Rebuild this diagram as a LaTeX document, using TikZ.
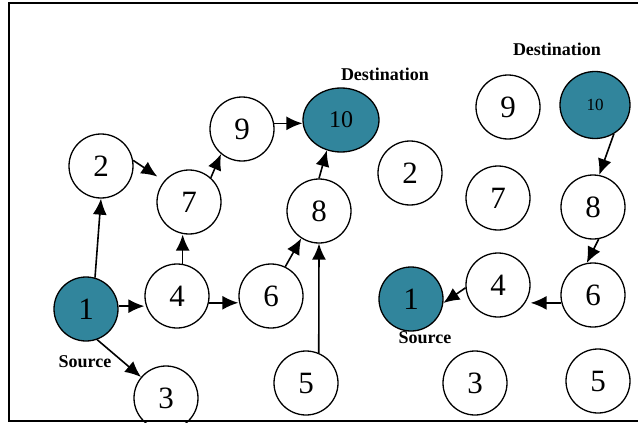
\documentclass[tikz,border=0pt]{standalone}
\usepackage{fontspec}
\setmainfont{Liberation Serif}
\usetikzlibrary{positioning}
\usetikzlibrary{arrows.meta}
\usetikzlibrary{shapes.geometric}
\definecolor{nodeteal}{HTML}{31859C}
\tikzset{
	vertex/.style={circle, draw, line width=1.3pt, minimum size=64pt, inner sep=0pt, font=\fontsize{31}{31}\selectfont},
	endpoint/.style={vertex, fill=nodeteal},
	goal/.style={ellipse, draw, fill=nodeteal, line width=1.3pt, minimum width=76pt, minimum height=64pt, inner sep=0pt, font=\fontsize{24}{24}\selectfont},
	tag/.style={font=\bfseries\fontsize{18}{18}\selectfont, inner sep=0pt},
	link/.style={-{Latex[length=16pt,width=14pt]}, line width=1.6pt},
}

\begin{document}
\begin{tikzpicture}[x=1pt,y=-1pt]
		\useasboundingbox (0,0) rectangle (638,423);
		\draw[line width=1.8pt] (640,3) -- (9,3) -- (9,421) -- (640,421);
		% first graph
		\node[endpoint] (l1) at (86,309) {1};
		\node[vertex] (l2) at (101,166) {2};
		\node[vertex] (l3) at (166,398) {3};
		\node[vertex] (l4) at (177,296) {4};
		\node[vertex] (l5) at (306,383) {5};
		\node[vertex] (l6) at (271,296) {6};
		\node[vertex] (l7) at (189,202) {7};
		\node[vertex] (l8) at (319,211) {8};
		\node[vertex] (l9) at (242,129) {9};
		\node[goal] (l10) at (341,120) {10};
		\node[tag] (srcl) at (85,362) {Source};
		\node[tag] (dstl) at (385,74) {Destination};
		\draw[link] (l1.74) -- (l2.south);
		\draw[link, shorten >=8pt] (l2.10) -- (l7.140);
		\draw[link] (l1.5) -- (l1.5 -| l4.west);
		\draw[link] (l1.-70) -- (l3.140);
		\draw[link] (l4.80) -- (l4.80 |- l7.south);
		\draw[link] (l4.-12) -- (l4.-12 -| l6.west);
		\draw[link] (l7.48) -- (l9.230);
		\draw[link] (l9.10) -- (l9.10 -| l10.west);
		\draw[link] (l6.64) -- (l8.237);
		\draw[link] (l5.67) -- (l8.south);
		\draw[link] (l8.north) -- (l10.245);
		% second graph
		\node[endpoint] (r1) at (411,299) {1};
		\node[vertex] (r2) at (410,173) {2};
		\node[vertex] (r3) at (475,383) {3};
		\node[vertex] (r4) at (498,285) {4};
		\node[vertex] (r5) at (598,381) {5};
		\node[vertex] (r6) at (593,295) {6};
		\node[vertex] (r7) at (498,198) {7};
		\node[vertex] (r8) at (593,207) {8};
		\node[vertex] (r9) at (508,107) {9};
		\node[goal, minimum width=70pt, minimum height=67pt, font=\fontsize{17}{17}\selectfont] (r10) at (595,105) {10};
		\node[tag] (srcr) at (425,338) {Source};
		\node[tag] (dstr) at (557,49) {Destination};
		\draw[link] (r10.-57) -- (r8.79);
		\draw[link] (r8.-80) -- (r6.101);
		\draw[link] (r6.194) -- (r6.194 -| r4.east);
		\draw[link] (r4.185) -- (r1.-7);
	\end{tikzpicture}
\end{document}
